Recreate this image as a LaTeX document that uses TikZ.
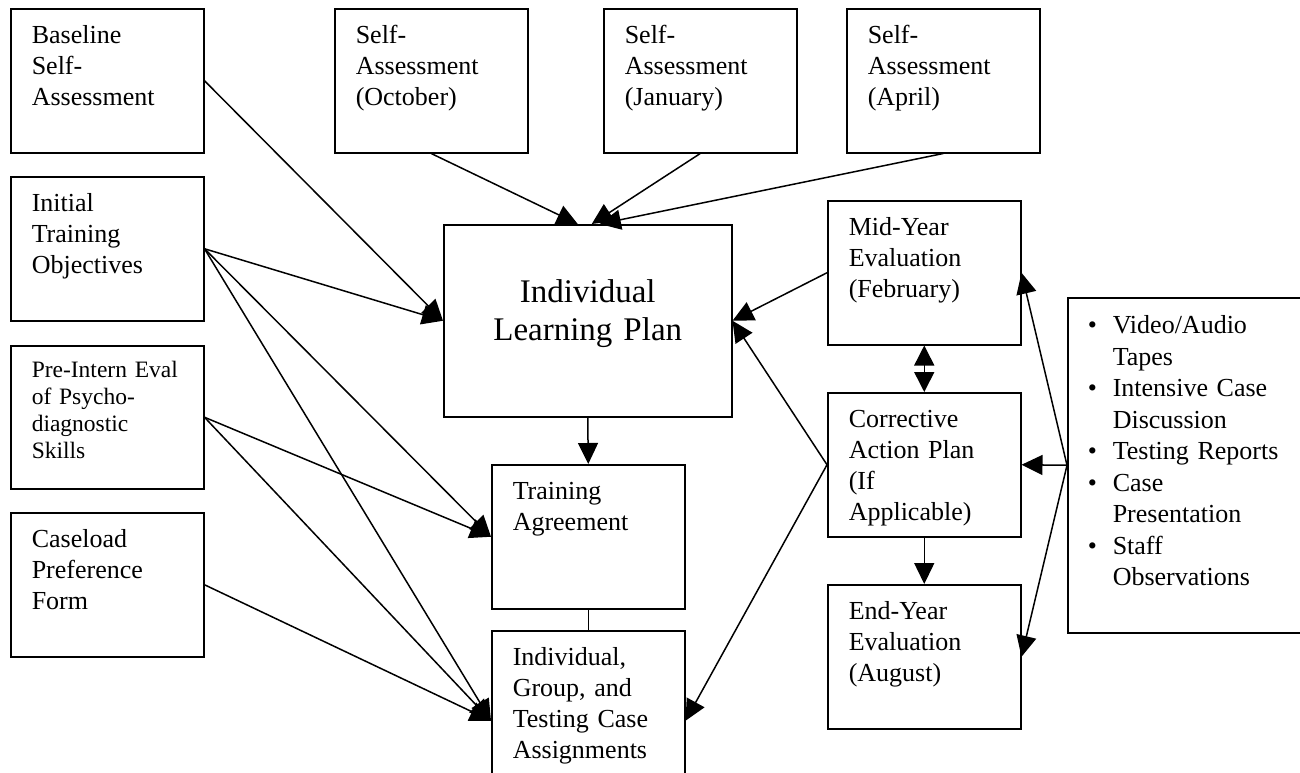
\documentclass[tikz,border=0pt]{standalone}
\usepackage{fontspec}
\setmainfont{Liberation Serif}
\usetikzlibrary{arrows.meta}
\newcommand{\srcbullet}{\makebox[25pt][l]{\textbullet}}
\newcommand{\srcindent}{\hspace*{25pt}}
\begin{document}
\begin{tikzpicture}[x=1pt,y=-1pt,
	box/.style={draw, line width=1.5pt, anchor=north west, inner xsep=21pt, inner ysep=0pt, text width=151pt, align=left, text height=35pt, text depth=109pt, font=\fontsize{26}{31}\selectfont},
	arr/.style={line width=1.5pt, -{Triangle[length=21pt,width=20pt]}},
	dblarr/.style={line width=1.5pt, {Triangle[length=20pt,width=20pt]}-{Triangle[length=20pt,width=20pt]}}]
	\useasboundingbox (0,0) rectangle (1300,772);
	% left column
	\node [box] (base) at (10,8) {Baseline\\Self-\\Assessment};
	\node [box] (init) at (10,176) {Initial\\Training\\Objectives};
	\node [box, font=\fontsize{23.5}{27}\selectfont, text height=32pt, text depth=111pt] (preint) at (10,345) {Pre-Intern Eval\\of Psycho-\\diagnostic\\Skills};
	\node [box] (caseload) at (10,512) {Caseload\\Preference\\Form};
	% self-assessments
	\node [box] (octsa) at (334,8) {Self-\\Assessment\\(October)};
	\node [box] (jansa) at (603,8) {Self-\\Assessment\\(January)};
	\node [box] (aprsa) at (846,8) {Self-\\Assessment\\(April)};
	% middle column
	\node [box, align=center, inner xsep=0pt, text width=288pt, text height=78pt, text depth=114pt, font=\fontsize{33}{38}\selectfont] (ilp) at (443,224) {Individual\\Learning Plan};
	\node [box] (agree) at (491,464) {Training\\Agreement};
	\node [box, text depth=145pt] (assign) at (491,630) {Individual,\\Group, and\\Testing Case\\Assignments};
	% evaluations
	\node [box] (midyear) at (827,200) {Mid-Year\\Evaluation\\(February)};
	\node [box] (corrective) at (827,392) {Corrective\\Action Plan\\(If\\Applicable)};
	\node [box] (endyear) at (827,584) {End-Year\\Evaluation\\(August)};
	\node [box, inner xsep=20pt, text width=230pt, text height=36pt, text depth=299pt, font=\fontsize{26}{31.5}\selectfont] (sources) at (1067,297) {\srcbullet Video/Audio\\\srcindent Tapes\\\srcbullet Intensive Case\\\srcindent Discussion\\\srcbullet Testing Reports\\\srcbullet Case\\\srcindent Presentation\\\srcbullet Staff\\\srcindent Observations};
	% connectors
	\draw [arr] (base.east) -- (ilp.west);
	\draw [arr] (init.east) -- (ilp.west);
	\draw [arr] (init.east) -- (agree.west);
	\draw [arr] (init.east) -- (assign.west);
	\draw [arr] (preint.east) -- (agree.west);
	\draw [arr] (preint.east) -- (assign.west);
	\draw [arr] (caseload.east) -- (assign.west);
	\draw [arr] (octsa.south) -- ([xshift=-10pt]ilp.north);
	\draw [arr] (jansa.south) -- ([xshift=4pt]ilp.north);
	\draw [arr] (aprsa.south) -- ([xshift=12pt]ilp.north);
	\draw [arr] (ilp.south) -- (agree.north);
	\draw [line width=1.5pt] (agree.south) -- (assign.north);
	\draw [arr] (midyear.west) -- (ilp.east);
	\draw [arr] (corrective.west) -- (ilp.east);
	\draw [arr] (corrective.west) -- (assign.east);
	\draw [dblarr] (midyear.south) -- (corrective.north);
	\draw [arr] (corrective.south) -- (endyear.north);
	\draw [arr] (sources.west) -- (midyear.east);
	\draw [arr] (sources.west) -- (corrective.east);
	\draw [arr] (sources.west) -- (endyear.east);
\end{tikzpicture}
\end{document}
